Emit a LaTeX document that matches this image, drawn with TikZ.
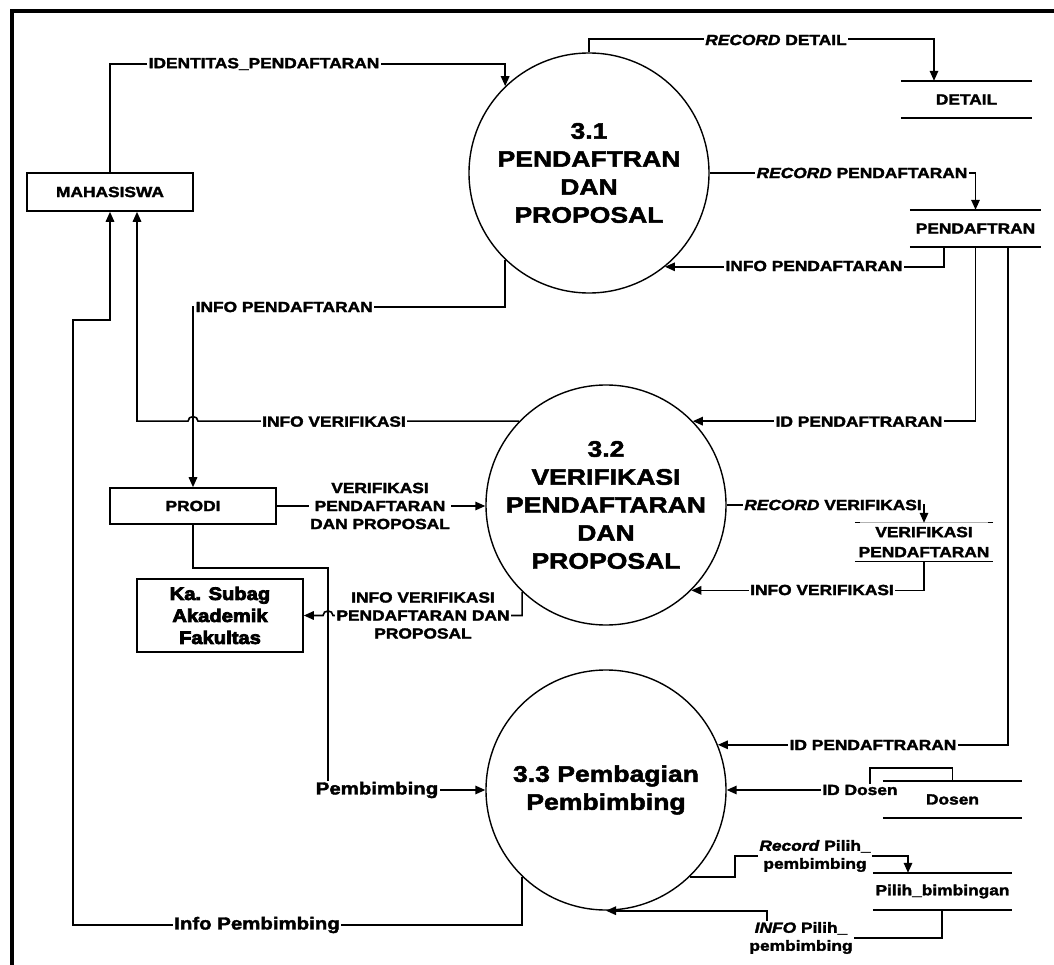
\documentclass[tikz,border=0pt]{standalone}
\usepackage{fontspec}
\setmainfont{Liberation Sans}[FakeStretch=1.18,BoldFeatures={FakeBold=2.2},BoldItalicFeatures={FakeBold=2.2}]
\newfontfamily\heavyfont{Liberation Sans}[FakeStretch=1.12,BoldFeatures={FakeBold=4.5}]
\usetikzlibrary{arrows.meta}
\begin{document}
\begin{tikzpicture}[x=1pt,y=-1pt,
  con/.style={line width=1.6pt},
  flow/.style={con,-{Triangle[length=10pt,width=8.5pt]}},
  lbl/.style={font=\bfseries\fontsize{14.7}{18}\selectfont,fill=white,inner xsep=1.5pt,inner ysep=1pt,align=center},
  biglbl/.style={lbl,font=\bfseries\fontsize{17.3}{20}\selectfont},
  proc/.style={circle,draw,line width=1.4pt,minimum size=240pt,inner sep=0pt,align=center,font=\bfseries\fontsize{22.5}{28}\selectfont},
  ent/.style={draw,line width=1.6pt,minimum width=166pt,minimum height=38pt,inner sep=0pt,font=\bfseries\fontsize{14.7}{18}\selectfont},
  store/.style={minimum width=131pt,minimum height=37pt,inner sep=0pt,align=center,font=\bfseries\fontsize{14.7}{20}\selectfont},
  sline/.style={line width=1.6pt},
]
\useasboundingbox (0,0) rectangle (1054,965);
% frame
\draw[line width=4pt] (12,965) -- (12,11) -- (1054,11);

% entities
\node[ent] (mhs) at (110,192) {MAHASISWA};
\node[ent,minimum height=36pt] (prodi) at (193,506) {PRODI};
\node[ent,minimum height=73pt,align=center,font=\heavyfont\bfseries\fontsize{18}{22}\selectfont] (ka) at (220,615.5) {Ka. Subag\\Akademik\\Fakultas};

% processes
\node[proc] (p1) at (589,173) {3.1\\PENDAFTRAN\\DAN\\PROPOSAL};
\node[proc] (p2) at (606,505) {3.2\\VERIFIKASI\\PENDAFTARAN\\DAN\\PROPOSAL};
\node[proc] (p3) at (606,790) {3.3 Pembagian\\Pembimbing};

% data stores
\node[store] (detail) at (966.5,99.5) {DETAIL};
\node[store] (daftar) at (975.5,228.5) {PENDAFTRAN};
\node[store,minimum width=138pt,minimum height=38pt] (verif) at (924,542) {VERIFIKASI\\PENDAFTARAN};
\node[store,minimum width=139pt] (dosen) at (952.5,799.5) {Dosen};
\node[store,minimum width=139pt] (pilih) at (942.5,891.5) {Pilih\_bimbingan};
\foreach \s in {detail,daftar,dosen,pilih}
  \draw[sline] (\s.north west) -- (\s.north east) (\s.south west) -- (\s.south east);
\draw[gray!60,line width=0.8pt] (verif.north west) -- (verif.north east);
\draw[line width=1.3pt] (verif.north west) -- ++(5,0) (verif.north east) -- ++(-5,0);
\draw[line width=1.3pt] (verif.south west) -- (verif.south east);

% connectors
\draw[flow] (mhs.north) |- (p1.134 |- 0,64) -- (p1.134);
\draw[flow] (p1.north) -- ++(0,-13) -| (934,0 |- detail.north);
\draw[flow] (p1.east) -| (daftar.north);
\draw[flow] (944,0 |- daftar.south) |- (p1.-51);
\draw[flow] (p1.226) |- (prodi.north |- 0,307) -- (prodi.north);
\draw[flow] (p2.136) -- (198,0 |- p2.136) .. controls +(0,-6) and +(0,-6) .. (188,0 |- p2.136) -- (137,0 |- p2.136) -- (137,0 |- mhs.south);
\draw[flow] (daftar.south) |- (p2.44);
\draw[flow] (p2.east) -| (verif.north);
\draw[flow] (verif.south) |- (p2.-45);
\draw[flow] (prodi.east) -- (prodi.east -| p2.west);
\draw[flow] (p2.226) |- (333,0 |- ka.east) .. controls +(0,-6) and +(0,-6) .. (323,0 |- ka.east) -- (ka.east);
\draw[flow] (prodi.south) |- (328,568) |- (p3.west);
\draw[flow] (1008,0 |- daftar.south) |- (p3.22);
\draw[flow] (dosen.north) -- ++(0,-13) -| (870,0 |- p3.east) -- (p3.east);
\draw[flow] (p3.-46) -| (735,856) -| (908,0 |- pilih.north);
\draw[flow] (942,0 |- pilih.south) |- (767,938) |- (p3.south);
\draw[flow] (p3.226) |- (73,925) |- (mhs.south |- 0,320) -- (mhs.south);

% labels
\node[lbl] (l1) at (264,64) {IDENTITAS\_PENDAFTARAN};
\node[lbl] (l2) at (776,40) {\textit{RECORD} DETAIL};
\node[lbl] (l3) at (862,173) {\textit{RECORD} PENDAFTARAN};
\node[lbl] (l4) at (814,266) {INFO PENDAFTARAN};
\node[lbl,anchor=west] (l5) at (194,307) {INFO PENDAFTARAN};
\node[lbl] (l6) at (334,421.6) {INFO VERIFIKASI};
\node[lbl] (l7) at (859,421.6) {ID PENDAFTRARAN};
\node[lbl] (l8) at (380,506) {VERIFIKASI\\PENDAFTARAN\\DAN PROPOSAL};
\node[lbl] (l9) at (833,505) {\textit{RECORD} VERIFIKASI};
\node[lbl] (l10) at (822,590) {INFO VERIFIKASI};
\node[lbl] (l11) at (423,615.5) {INFO VERIFIKASI\\PENDAFTARAN DAN\\PROPOSAL};
\node[lbl] (l12) at (873,745) {ID PENDAFTRARAN};
\node[lbl] (l13) at (860,790) {ID Dosen};
\node[biglbl] (l14) at (377,790) {Pembimbing};
\node[lbl] (l15) at (815,856) {\textit{Record} Pilih\_\\pembimbing};
\node[lbl] (l16) at (801,938) {\textit{INFO} Pilih\_\\pembimbing};
\node[biglbl] (l17) at (257,925) {Info Pembimbing};
\end{tikzpicture}
\end{document}
